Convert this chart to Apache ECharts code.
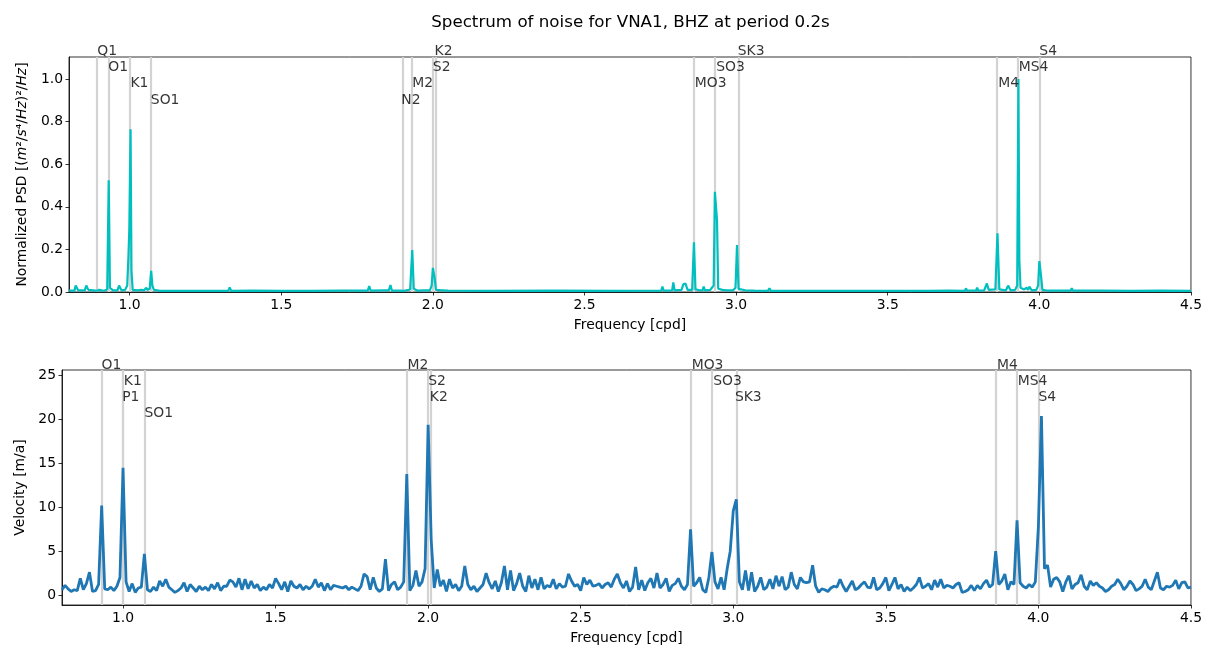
<!DOCTYPE html>
<html><head><meta charset="utf-8">
<script src="https://cdn.jsdelivr.net/npm/echarts@6/dist/echarts.min.js"></script>
<style>html,body{margin:0;padding:0;background:#fff}#c{width:1205px;height:654px}</style>
</head><body><div id="c"></div>
<script>
const titleText = 'Spectrum of noise for VNA1, BHZ at period 0.2s';
const xTicks = [1.0, 1.5, 2.0, 2.5, 3.0, 3.5, 4.0, 4.5];
const psdTicks = [0, 0.2, 0.4, 0.6, 0.8, 1.0];
const velTicks = [0, 5, 10, 15, 20, 25];

// Top panel: tidal constituents (name, frequency cpd, label row)
const topNames = ['Q1','O1','K1','SO1','N2','M2','S2','K2','MO3','SO3','SK3','M4','MS4','S4'];
const topFreqs = [0.8932,0.9295,1.0027,1.07,1.8960,1.9323,2.0,2.0055,2.8636,2.9345,3.0055,3.8645,3.9323,4.0];
const topRows  = [0,1,2,3,3,2,1,0,2,1,0,2,1,0];
const topRowY  = [1.128, 1.054, 0.977, 0.901];

// Bottom panel constituents
const botNames = ['O1','K1','P1','SO1','M2','S2','K2','MO3','SO3','SK3','M4','MS4','S4'];
const botFreqs = [0.9295,1.0027,0.9973,1.07,1.9323,2.0,2.0055,2.8636,2.9345,3.0055,3.8645,3.9323,4.0];
const botRows  = [0,1,2,3,0,1,2,0,1,2,0,1,2];
const botRowY  = [26.13, 24.40, 22.58, 20.66];

// Normalized PSD (top)
const psdFreq = [0.800,0.818,0.822,0.826,0.830,0.852,0.857,0.860,0.864,0.880,0.893,0.900,0.915,0.926,0.931,0.935,0.945,0.960,0.965,0.969,0.973,0.985,0.992,0.996,0.999,1.003,1.006,1.010,1.025,1.040,1.044,1.048,1.052,1.055,1.058,1.066,1.071,1.075,1.080,1.090,1.100,1.162,1.166,1.170,1.205,1.209,1.213,1.250,1.254,1.258,1.325,1.330,1.335,1.400,1.500,1.600,1.700,1.785,1.790,1.795,1.840,1.855,1.860,1.865,1.890,1.896,1.905,1.925,1.932,1.937,1.950,1.970,1.990,1.996,2.000,2.006,2.010,2.030,2.050,2.200,2.400,2.600,2.753,2.757,2.761,2.789,2.793,2.797,2.820,2.826,2.833,2.840,2.855,2.861,2.866,2.880,2.889,2.893,2.897,2.915,2.920,2.926,2.930,2.937,2.941,2.955,2.970,2.990,2.998,3.003,3.008,3.030,3.060,3.105,3.110,3.115,3.300,3.500,3.626,3.630,3.634,3.700,3.754,3.758,3.762,3.791,3.795,3.799,3.818,3.822,3.827,3.833,3.855,3.862,3.868,3.890,3.897,3.905,3.920,3.927,3.931,3.934,3.938,3.950,3.958,3.963,3.967,3.975,3.990,3.996,4.000,4.006,4.010,4.030,4.080,4.103,4.107,4.111,4.200,4.300,4.400,4.500];
const psdVal  = [0.006,0.006,0.030,0.036,0.008,0.008,0.030,0.038,0.010,0.008,0.006,0.010,0.006,0.012,0.525,0.020,0.008,0.008,0.030,0.032,0.008,0.010,0.030,0.165,0.300,0.764,0.100,0.010,0.008,0.010,0.016,0.008,0.010,0.020,0.010,0.015,0.099,0.030,0.010,0.008,0.005,0.005,0.014,0.005,0.005,0.012,0.005,0.005,0.010,0.005,0.005,0.022,0.005,0.006,0.005,0.005,0.006,0.006,0.028,0.006,0.008,0.008,0.033,0.006,0.006,0.010,0.005,0.012,0.197,0.015,0.006,0.008,0.008,0.030,0.113,0.064,0.010,0.008,0.006,0.005,0.006,0.005,0.006,0.025,0.006,0.008,0.045,0.008,0.010,0.036,0.040,0.010,0.010,0.233,0.012,0.008,0.008,0.025,0.008,0.010,0.020,0.030,0.470,0.336,0.015,0.010,0.008,0.008,0.020,0.220,0.015,0.008,0.006,0.005,0.017,0.005,0.005,0.005,0.005,0.010,0.005,0.006,0.005,0.017,0.006,0.006,0.020,0.006,0.008,0.012,0.040,0.010,0.012,0.275,0.012,0.008,0.030,0.008,0.010,0.030,1.000,0.150,0.020,0.012,0.020,0.010,0.025,0.008,0.010,0.030,0.145,0.070,0.010,0.006,0.006,0.006,0.018,0.006,0.006,0.005,0.006,0.005];

// Velocity (bottom), sampled every 0.01 cpd from 0.80 to 4.50
const velStart = 0.80, velStep = 0.01;
const velVal = [
0.6,1.1,0.7,0.4,0.6,0.5,1.9,0.6,1.3,2.6,
0.4,0.5,1.2,10.2,0.7,0.6,0.9,0.5,1.0,2.0,
14.5,1.5,0.4,1.3,0.3,0.8,0.9,4.7,0.6,0.4,
0.9,0.5,1.6,1.0,1.8,0.9,0.6,0.3,0.5,0.8,
1.4,0.4,1.2,0.8,0.4,1.0,0.6,0.9,0.5,1.2,
0.7,1.4,0.5,1.0,1.0,1.7,1.5,0.9,1.9,0.6,
1.8,0.7,1.6,0.8,1.2,0.5,0.9,0.6,1.2,0.8,
1.9,1.3,0.6,1.5,0.4,1.6,1.0,0.8,1.2,0.6,
1.0,0.7,1.0,1.8,0.9,1.4,0.5,1.3,0.6,1.1,
1.0,0.9,0.8,1.0,0.6,0.9,0.7,0.5,1.0,2.4,
2.1,0.6,2.0,0.8,0.4,0.7,4.1,0.5,1.2,1.5,
0.6,0.9,1.5,13.8,0.5,1.1,2.8,1.0,1.5,3.0,
19.4,6.3,0.8,2.9,1.0,1.7,0.4,1.8,0.8,1.2,
0.5,1.0,3.3,1.2,0.6,1.0,0.4,0.8,1.2,2.5,
1.4,0.7,1.6,0.4,1.4,3.3,0.6,2.8,0.5,1.3,
2.5,1.0,0.4,2.2,0.8,1.8,0.6,2.0,0.7,1.1,
0.9,1.8,0.7,1.3,0.9,1.0,2.4,1.6,1.0,1.2,
0.5,2.0,1.2,1.7,1.0,1.1,1.3,0.8,1.2,1.4,
0.9,1.8,2.4,1.4,0.8,1.6,0.4,0.9,3.2,0.6,
1.7,0.5,1.4,1.9,0.8,2.5,0.8,1.2,1.9,0.4,
1.1,1.3,1.9,1.0,0.6,1.2,7.5,1.0,1.4,2.0,
0.6,0.3,2.0,4.9,1.5,0.7,2.0,0.6,3.0,5.0,
9.6,10.9,1.5,0.6,2.8,0.5,2.6,0.4,1.0,2.0,
0.6,0.9,1.8,0.7,2.2,1.0,2.1,0.6,0.9,2.6,
1.2,0.7,2.0,1.5,1.4,1.5,3.4,1.0,0.3,0.7,
0.6,0.4,0.8,1.0,0.9,1.8,1.0,0.4,1.0,1.6,
0.6,0.8,1.2,1.5,0.9,0.8,2.0,0.6,0.8,1.3,
2.0,0.5,1.2,2.0,0.7,1.2,0.4,0.9,0.5,0.8,
1.2,2.0,0.8,1.0,1.3,0.6,1.7,0.9,1.8,0.8,
1.1,1.0,0.8,1.2,1.4,0.3,0.4,0.6,1.1,0.5,
1.1,0.7,1.3,1.7,0.9,1.2,5.0,1.2,1.6,2.4,
0.6,1.5,1.2,8.5,1.4,1.0,0.8,1.2,0.9,1.5,
7.8,20.4,3.0,3.4,0.9,1.8,2.0,1.5,0.4,1.5,
2.2,0.7,1.2,1.4,2.3,1.0,0.6,1.6,1.1,1.4,
1.0,0.8,0.4,0.6,1.0,1.2,1.8,1.3,0.6,1.0,
1.6,1.2,0.5,0.7,1.0,1.8,0.9,0.6,1.6,2.6,
0.8,0.6,1.0,0.9,1.1,1.7,0.7,1.4,1.5,0.8,
0.9];

const FONT = '"DejaVu Sans", sans-serif';
const FS = 13.9;

const psdData = psdFreq.map((f, i) => [f, psdVal[i]]);
const velData = velVal.map((v, i) => [+(velStart + i * velStep).toFixed(2), v]);
const topLabels = topNames.map((n, i) => [topFreqs[i], topRowY[topRows[i]], n]);
const botLabels = botNames.map((n, i) => [botFreqs[i], botRowY[botRows[i]], n]);

function xAxisCfg(gi) {
  return {
    type: 'value', gridIndex: gi, min: 0.8, max: 4.5,
    name: 'Frequency [cpd]', nameLocation: 'middle', nameGap: 26,
    nameTextStyle: { fontFamily: FONT, fontSize: FS, color: '#000' },
    axisLine: { show: true, onZero: false, lineStyle: { color: '#000', width: 0.8 } },
    axisTick: { show: true, inside: false, length: 3.5, customValues: xTicks, lineStyle: { color: '#000', width: 0.8 } },
    axisLabel: { show: true, customValues: xTicks, margin: 6, formatter: v => v.toFixed(1), fontFamily: FONT, fontSize: FS, color: '#000', showMinLabel: true, showMaxLabel: true, hideOverlap: false },
    splitLine: { show: false }
  };
}
function yAxisCfg(gi, min, max, ticks, fmt, name, gap, rich) {
  return {
    type: 'value', gridIndex: gi, min: min, max: max,
    name: name, nameLocation: 'middle', nameGap: gap,
    nameTextStyle: { fontFamily: FONT, fontSize: FS, color: '#000', rich: rich },
    axisLine: { show: true, onZero: false, lineStyle: { color: '#000', width: 0.8 } },
    axisTick: { show: true, inside: false, length: 3.5, customValues: ticks, lineStyle: { color: '#000', width: 0.8 } },
    axisLabel: { show: true, customValues: ticks, margin: 6, formatter: fmt, fontFamily: FONT, fontSize: FS, color: '#000', showMinLabel: true, showMaxLabel: true, hideOverlap: false },
    splitLine: { show: false }
  };
}
function vlineSeries(xi, yi, freqs) {
  return {
    type: 'line', xAxisIndex: xi, yAxisIndex: yi, data: [], z: 1, silent: true,
    markLine: {
      z: 1, zlevel: 0,
      silent: true, symbol: ['none', 'none'], animation: false,
      lineStyle: { color: '#d3d3d3', width: 2.2, type: 'solid', opacity: 1 },
      label: { show: false },
      emphasis: { disabled: true },
      data: freqs.map(f => ({ xAxis: f }))
    }
  };
}
function labelSeries(xi, yi, data) {
  return {
    type: 'scatter', xAxisIndex: xi, yAxisIndex: yi, data: data, z: 6, silent: true,
    symbolSize: 0.01, itemStyle: { color: 'rgba(0,0,0,0)' }, clip: false,
    label: { show: true, position: [0, 0], align: 'left', verticalAlign: 'middle',
      formatter: p => p.data[2], fontFamily: FONT, fontSize: FS, color: '#000' },
    emphasis: { disabled: true }
  };
}

const rich = {
  n: { fontFamily: FONT, fontSize: FS, color: '#000' },
  i: { fontFamily: FONT, fontSize: FS, color: '#000', fontStyle: 'italic' }
};

const chart = echarts.init(document.getElementById('c'), null, { renderer: 'canvas' });
chart.setOption({
  animation: false,
  backgroundColor: '#fff',
  graphic: [{
    type: 'text', x: 630.5, y: 23, silent: true,
    style: { text: titleText, font: '16.7px "DejaVu Sans", sans-serif', fill: '#000', align: 'center', verticalAlign: 'middle' }
  }],
  grid: [
    { left: 69, right: 13, top: 57, height: 235, show: true, borderColor: '#000', borderWidth: 0.8, backgroundColor: 'transparent' },
    { left: 62, right: 13, top: 370, height: 235, show: true, borderColor: '#000', borderWidth: 0.8, backgroundColor: 'transparent' }
  ],
  xAxis: [xAxisCfg(0), xAxisCfg(1)],
  yAxis: [
    yAxisCfg(0, 0, 1.103, psdTicks, v => v.toFixed(1),
      '{n|Normalized PSD [(}{i|m}{n|²/}{i|s}{n|⁴/}{i|Hz}{n|)²/}{i|Hz}{n|]}', 40, rich),
    yAxisCfg(1, -1.14, 25.65, velTicks, v => String(v), 'Velocity [m/a]', 33, undefined)
  ],
  series: [
    vlineSeries(0, 0, topFreqs),
    { type: 'line', xAxisIndex: 0, yAxisIndex: 0, data: psdData, z: 3, showSymbol: false, symbol: 'none', silent: true,
      lineStyle: { color: '#00bfbf', width: 2.2 }, itemStyle: { color: '#00bfbf' }, clip: true },
    labelSeries(0, 0, topLabels),
    vlineSeries(1, 1, botFreqs),
    { type: 'line', xAxisIndex: 1, yAxisIndex: 1, data: velData, z: 3, showSymbol: false, symbol: 'none', silent: true,
      lineStyle: { color: '#1f77b4', width: 2.8 }, itemStyle: { color: '#1f77b4' }, clip: true },
    labelSeries(1, 1, botLabels)
  ]
});
</script>
</body></html>
